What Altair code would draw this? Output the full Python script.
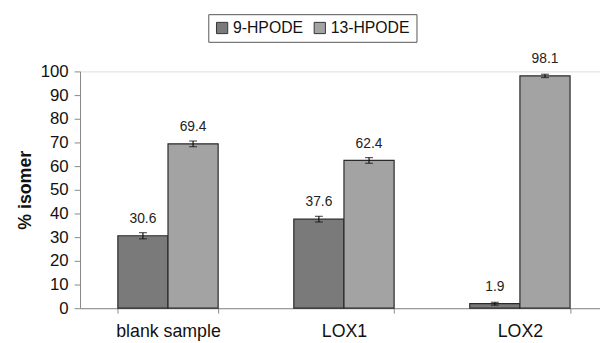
import altair as alt
import pandas as pd

categories = ["blank sample", "LOX1", "LOX2"]
series = ["9-HPODE", "13-HPODE"]
v9 = [30.6, 37.6, 1.9]
v13 = [69.4, 62.4, 98.1]
err9 = [1.3, 1.2, 0.6]
err13 = [1.2, 1.2, 0.7]
yticks = [0, 10, 20, 30, 40, 50, 60, 70, 80, 90, 100]

rows = []
for i, c in enumerate(categories):
    rows.append({"cat": c, "series": "9-HPODE", "value": v9[i], "lo": v9[i] - err9[i], "hi": v9[i] + err9[i], "label": f"{v9[i]:.1f}"})
    rows.append({"cat": c, "series": "13-HPODE", "value": v13[i], "lo": v13[i] - err13[i], "hi": v13[i] + err13[i], "label": f"{v13[i]:.1f}"})
df = pd.DataFrame(rows)

FONT = "Liberation Sans"
yscale = alt.Scale(domain=[0, 100], nice=False)
yaxis = alt.Axis(values=yticks, labelFontSize=17, labelFont=FONT,
                 labelColor="#111", titleFont=FONT, titleFontSize=18, titleFontWeight="bold",
                 titleColor="#111", domainColor="#888", tickColor="#888", tickSize=6,
                 grid=False, titlePadding=6, labelPadding=6)

x = alt.X("cat:N", sort=categories, title=None,
          scale=alt.Scale(range=[0, 535], paddingInner=0.43, paddingOuter=0.215),
          axis=alt.Axis(labelAngle=0, labelFontSize=18, labelColor="#111", labelFont=FONT,
                        domainColor="#888", tickColor="#888", tickBand="extent", tickSize=5,
                        labelPadding=10, grid=False))
xo = alt.XOffset("series:N", sort=series, scale=alt.Scale(paddingInner=0))

base = alt.Chart(df).encode(x=x, xOffset=xo)

bars = base.mark_bar(stroke="#2a2a2a", strokeWidth=1.2).encode(
    y=alt.Y("value:Q", title="% isomer", scale=yscale, axis=yaxis),
    fill=alt.Fill("series:N", sort=series,
                  scale=alt.Scale(domain=series, range=["#7a7a7a", "#a3a3a3"]),
                  legend=alt.Legend(title=None, orient="none", direction="horizontal",
                                    legendX=130, legendY=-58, labelFontSize=16, labelFont=FONT,
                                    labelColor="#111", symbolType="square", symbolSize=130,
                                    symbolStrokeColor="#333", symbolStrokeWidth=1,
                                    labelOffset=3, strokeColor="#555", padding=6,
                                    columnPadding=8, labelLimit=200)),
)

errs = base.mark_errorbar(color="#111", ticks=alt.TickConfig(size=8, color="#111"), thickness=1.2).encode(
    y=alt.Y("lo:Q", scale=yscale, axis=yaxis, title="% isomer"), y2="hi:Q"
)

labels = base.mark_text(baseline="alphabetic", dy=-13, fontSize=14, font=FONT, color="#222").encode(
    y=alt.Y("value:Q", scale=yscale, axis=yaxis, title="% isomer"), text="label:N"
)

chart = alt.layer(bars, errs, labels).properties(
    width=527, height=240,
    autosize=alt.AutoSizeParams(type="none"),
    padding={"left": 73, "top": 62, "right": 0, "bottom": 33},
).configure_view(stroke=None).configure(background="white")

chart.save("out.html", embed_options={"renderer": "svg", "actions": False})
